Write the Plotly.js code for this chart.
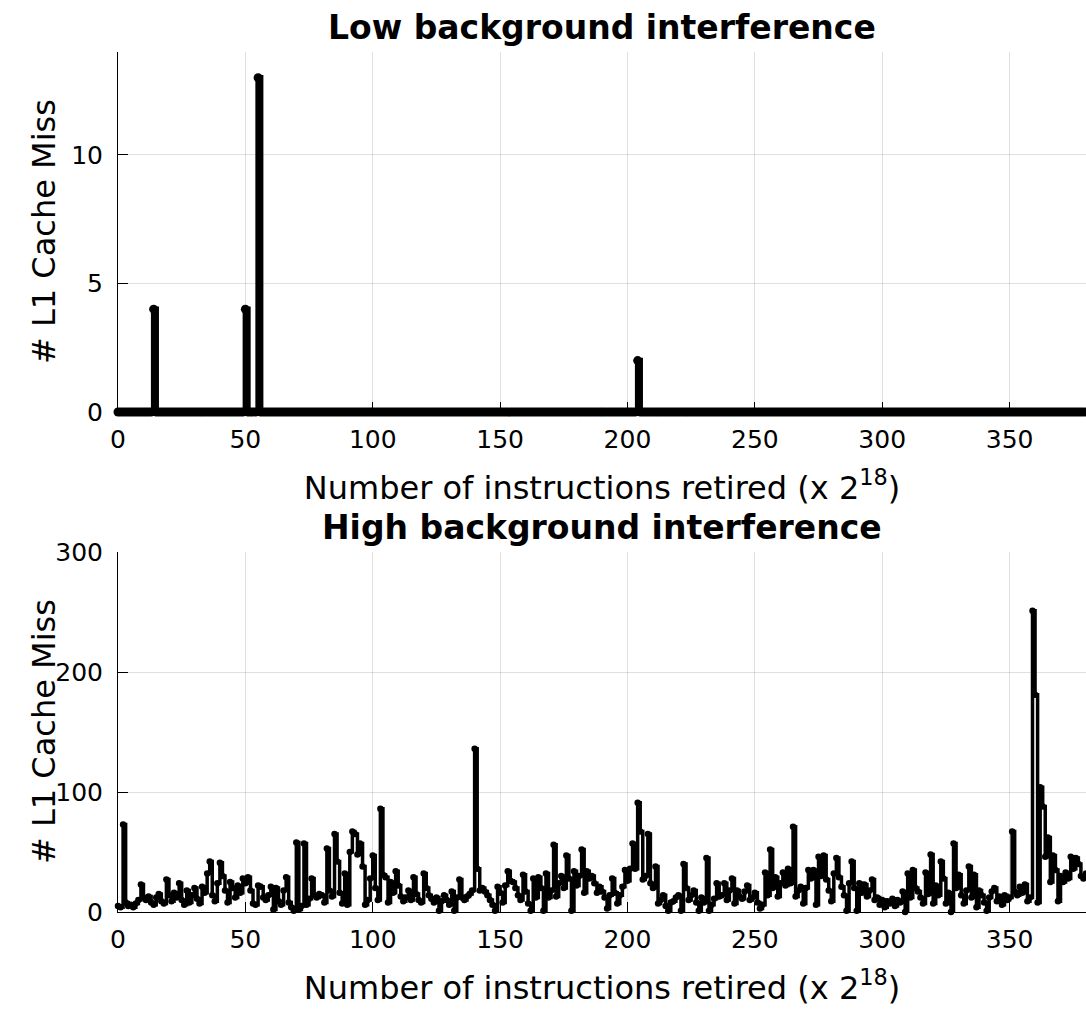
<!DOCTYPE html>
<html>
<head>
<meta charset="utf-8">
<script src="https://cdn.plot.ly/plotly-3.0.1.min.js"></script>
<style>html,body{margin:0;padding:0;background:#fff;}#chart{width:1086px;height:1009px;}</style>
</head>
<body>
<div id="chart"></div>
<script>
// Low background interference: non-zero samples (index -> misses), all others 0
const lowCount = 381;
const lowSpikeIndex = [14, 50, 55, 204];
const lowSpikeValue = [4, 4, 13, 2];

// High background interference: misses per sample (index 0..380)
const highValues = [
  5, 4, 73, 8, 5, 6, 4, 7, 10, 23,
  12, 10, 13, 8, 6, 12, 15, 9, 7, 27,
  14, 9, 16, 12, 24, 10, 6, 18, 8, 14,
  20, 11, 7, 21, 16, 32, 42, 14, 9, 24,
  41, 30, 18, 8, 25, 20, 12, 22, 16, 28,
  24, 29, 18, 7, 6, 22, 21, 12, 10, 14,
  21, 2, 20, 9, 6, 18, 29, 8, 4, 1,
  58, 2, 5, 57, 6, 11, 28, 14, 12, 15,
  14, 8, 53, 18, 13, 65, 42, 16, 7, 32,
  6, 50, 67, 65, 48, 57, 38, 6, 10, 28,
  47, 20, 10, 86, 31, 29, 8, 25, 16, 34,
  22, 13, 9, 12, 18, 10, 29, 15, 10, 8,
  32, 20, 14, 11, 8, 12, 1, 9, 14, 10,
  6, 17, 1, 12, 27, 12, 10, 13, 15, 18,
  136, 36, 18, 20, 17, 14, 10, 6, 1, 21,
  16, 8, 22, 34, 26, 25, 20, 14, 10, 31,
  17, 7, 1, 28, 12, 29, 20, 1, 32, 12,
  18, 56, 13, 24, 30, 20, 47, 28, 1, 34,
  22, 30, 52, 16, 34, 28, 30, 24, 16, 21,
  17, 12, 3, 14, 28, 16, 7, 14, 21, 35,
  26, 36, 57, 36, 91, 67, 27, 30, 65, 24,
  20, 38, 7, 10, 14, 5, 1, 8, 9, 12,
  14, 1, 40, 20, 10, 14, 18, 8, 1, 12,
  8, 45, 1, 6, 11, 24, 13, 14, 24, 10,
  18, 28, 7, 18, 13, 11, 17, 22, 10, 12,
  16, 8, 3, 6, 33, 14, 52, 20, 29, 13,
  24, 33, 22, 36, 24, 71, 13, 18, 21, 7,
  20, 35, 28, 35, 6, 46, 30, 47, 27, 18,
  9, 32, 45, 29, 21, 14, 1, 24, 42, 20,
  1, 24, 16, 23, 13, 18, 27, 10, 12, 6,
  10, 4, 9, 7, 11, 5, 10, 8, 17, 0,
  32, 12, 35, 20, 17, 12, 7, 33, 15, 48,
  7, 22, 14, 42, 28, 7, 16, 0, 57, 20,
  31, 14, 7, 18, 38, 12, 31, 4, 18, 14,
  8, 1, 12, 17, 20, 9, 13, 6, 14, 10,
  12, 67, 17, 14, 21, 16, 23, 9, 12, 251,
  181, 8, 104, 88, 46, 62, 25, 47, 35, 9,
  30, 25, 33, 28, 46, 36, 45, 40, 30, 28,
  32
];

const xTickVals = [0, 50, 100, 150, 200, 250, 300, 350];
const lowYTicks = [0, 5, 10];
const highYTicks = [0, 100, 200, 300];

const titleTop = 'Low background interference';
const titleBottom = 'High background interference';
const xTitle = 'Number of instructions retired (x 2<sup>18</sup>)';
const yTitle = '# L1 Cache Miss';

const lowX = [], lowY = [];
for (let i = 0; i < lowCount; i++) { lowX.push(i); lowY.push(0); }
lowSpikeIndex.forEach((ix, k) => { lowY[ix] = lowSpikeValue[k]; });
const highX = highValues.map((_, i) => i);

const fontFam = 'DejaVu Sans, sans-serif';
const titleFont = {family: fontFam, size: 33, color: '#000'};
const guideFont = {family: fontFam, size: 32, color: '#000'};

const traces = [
  {x: lowX, y: lowY, type: 'scatter', mode: 'lines+markers', line: {shape: 'hv', color: '#000', width: 5.5},
   marker: {color: '#000', size: 9}, xaxis: 'x', yaxis: 'y', cliponaxis: false, hoverinfo: 'x+y'},
  {x: highX, y: highValues, type: 'scatter', mode: 'lines+markers', line: {shape: 'hv', color: '#000', width: 3.5},
   marker: {color: '#000', size: 6.5}, xaxis: 'x2', yaxis: 'y2', cliponaxis: false, hoverinfo: 'x+y'}
];

const figH = 1009, mTop = 52, mBottom = 97, plotH = figH - mTop - mBottom;
const axBase = {
  showgrid: true, gridcolor: 'rgba(0,0,0,0.12)', gridwidth: 1,
  showline: true, linecolor: '#000', linewidth: 1,
  ticks: 'inside', ticklen: 10, tickcolor: '#000', tickwidth: 1,
  zeroline: false, tickfont: {family: fontFam, size: 25, color: '#000'}
};

const layout = {
  width: 1086, height: figH,
  margin: {l: 118, r: 0, t: mTop, b: mBottom},
  paper_bgcolor: '#fff', plot_bgcolor: '#fff',
  showlegend: false,
  font: {family: fontFam, color: '#000'},
  xaxis: Object.assign({}, axBase, {domain: [0, 1], range: [0, 380], tickvals: xTickVals, anchor: 'y', ticklabelstandoff: 5,
    title: {text: xTitle, font: guideFont, standoff: 23}}),
  yaxis: Object.assign({}, axBase, {domain: [1 - 360 / plotH, 1], range: [0, 14], tickvals: lowYTicks, anchor: 'x', ticklabelstandoff: 9}),
  xaxis2: Object.assign({}, axBase, {domain: [0, 1], range: [0, 380], tickvals: xTickVals, anchor: 'y2', ticklabelstandoff: 5,
    title: {text: xTitle, font: guideFont, standoff: 23}}),
  yaxis2: Object.assign({}, axBase, {domain: [0, 360 / plotH], range: [0, 300], tickvals: highYTicks, anchor: 'x2', ticklabelstandoff: 9}),
  annotations: [
    {text: '<b>' + titleTop + '</b>', xref: 'paper', yref: 'paper', x: 0.5, y: 1, yshift: 25, showarrow: false,
     xanchor: 'center', yanchor: 'middle', font: titleFont},
    {text: '<b>' + titleBottom + '</b>', xref: 'paper', yref: 'paper', x: 0.5, y: 360 / plotH, yshift: 25, showarrow: false,
     xanchor: 'center', yanchor: 'middle', font: titleFont},
    {text: yTitle, xref: 'paper', yref: 'paper', x: 0, xshift: -74, y: 1 - 180 / plotH, textangle: -90, showarrow: false,
     xanchor: 'center', yanchor: 'middle', font: guideFont},
    {text: yTitle, xref: 'paper', yref: 'paper', x: 0, xshift: -74, y: 180 / plotH, textangle: -90, showarrow: false,
     xanchor: 'center', yanchor: 'middle', font: guideFont}
  ]
};

Plotly.newPlot('chart', traces, layout, {displayModeBar: false, staticPlot: true});
</script>
</body>
</html>
